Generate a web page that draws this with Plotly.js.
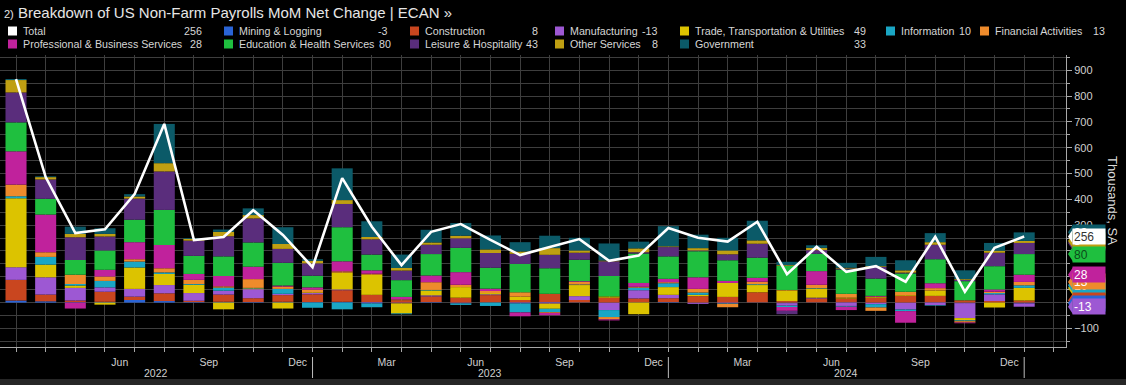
<!DOCTYPE html>
<html><head><meta charset="utf-8">
<script src="https://cdn.plot.ly/plotly-3.0.1.min.js"></script>
<style>html,body{margin:0;padding:0;background:#000;}#chart{width:1126px;height:385px;}</style>
</head><body><div id="chart"></div>
<script>
// ---------------- DATA (thousands, MoM net change) ----------------
const months = ['2022-02','2022-03','2022-04','2022-05','2022-06','2022-07','2022-08','2022-09','2022-10','2022-11','2022-12',
 '2023-01','2023-02','2023-03','2023-04','2023-05','2023-06','2023-07','2023-08','2023-09','2023-10','2023-11','2023-12',
 '2024-01','2024-02','2024-03','2024-04','2024-05','2024-06','2024-07','2024-08','2024-09','2024-10','2024-11','2024-12'];
const monthNames = ['Jan','Feb','Mar','Apr','May','Jun','Jul','Aug','Sep','Oct','Nov','Dec'];
const labelMonths = ['Mar','Jun','Sep','Dec'];

const total         = [866,486,269,284,420,692,242,254,358,262,137,482,294,145,274,304,243,184,215,246,162,182,289,251,236,313,110,216,119,141,81,255,42,212,256];
const mining        = [8,5,2,3,10,6,2,3,2,3,2,3,2,-1,2,-1,1,1,2,1,-1,1,2,-1,0,1,-2,1,1,-1,-1,1,-2,0,-3];
const construction  = [80,26,6,39,13,30,5,28,15,26,30,45,28,9,22,19,28,9,32,9,19,15,15,25,22,39,6,15,15,19,26,25,9,6,8];
const manufacturing = [49,67,49,17,30,32,30,15,35,5,5,3,-3,-2,4,-2,3,-3,-4,15,-28,32,13,-4,-3,0,-10,3,-13,-5,-26,-10,-58,26,-13];
const trade         = [267,49,9,-8,83,43,32,-26,3,-23,3,65,78,-39,19,41,5,13,-20,43,5,-45,30,5,54,28,41,35,3,4,3,21,-9,-19,49];
const information   = [8,30,6,25,23,6,3,12,2,19,-20,-26,-15,-3,2,-6,-13,-35,-13,2,-27,10,15,9,-2,3,-5,2,-3,-13,-6,-2,-3,5,10];
const financial     = [45,18,36,17,9,16,16,5,34,9,10,5,4,3,30,9,8,17,-3,10,-9,3,4,14,-13,10,2,13,15,-13,13,9,-5,5,13];
const professional  = [129,146,-23,26,66,90,23,40,48,4,9,39,13,10,26,49,9,-15,-9,3,-4,15,13,45,8,15,-15,53,-13,3,-45,19,-3,9,28];
const education     = [112,61,57,75,87,136,70,76,94,88,45,132,61,65,83,94,81,110,99,83,79,114,87,101,80,78,93,67,94,67,71,93,74,90,80];
const leisure       = [116,75,88,54,82,149,59,78,93,54,48,90,59,37,36,37,57,39,52,27,57,5,36,3,23,54,-13,14,4,45,3,56,5,52,43];
const otherServices = [48,9,13,10,8,32,7,17,13,19,10,15,9,10,9,10,14,9,26,9,3,15,3,9,15,13,3,9,3,3,9,10,3,8,8];
const government    = [4,3,28,22,9,152,3,9,26,65,6,123,61,52,49,49,54,36,48,49,66,26,78,52,49,76,13,10,19,36,39,35,34,30,33];

const seriesNames = ['Mining & Logging','Construction','Manufacturing','Trade, Transportation & Utilities','Information',
 'Financial Activities','Professional & Business Services','Education & Health Services','Leisure & Hospitality','Other Services','Government'];
const seriesData = [mining,construction,manufacturing,trade,information,financial,professional,education,leisure,otherServices,government];
const seriesColors = ['#2a64d6','#c9461f','#9d58d3','#dcc300','#1aa6c4','#ee8b2c','#c0229c','#1fbf3f','#5a2d7c','#bf9f12','#0b5a68'];
const totalColor = '#ffffff';

// ---------------- GEOMETRY ----------------
const W = 1126, H = 385, ML = 0, MR = 60, MT = 55, MB = 38;
const PW = W - ML - MR, PH = H - MT - MB;
const px2x = p => (p - ML) / PW;
const py2y = p => (H - MB - p) / PH;
const xRange = [-0.54, 35.41];
const yRange = [-172, 959];
const FONT = 'Liberation Sans, Arial, sans-serif';
const LEGSIZE = 10.7;

const xs = months.map((m, i) => i);
const traces = seriesData.map((d, k) => ({
  type: 'bar', x: xs, y: d, name: seriesNames[k], width: 0.71,
  marker: {color: seriesColors[k], line: {width: 0}}, showlegend: false, hoverinfo: 'skip'
}));
traces.push({type: 'scatter', mode: 'lines', x: xs, y: total, name: 'Total',
  line: {color: totalColor, width: 2.6}, showlegend: false, hoverinfo: 'skip'});

// month labels at month centres (bars sit at month end); first partial quarter unlabeled
const tickVals = [], tickText = [];
months.forEach((m, i) => {
  const nm = monthNames[parseInt(m.slice(5), 10) - 1];
  if (i >= 2 && labelMonths.includes(nm)) { tickVals.push(i - 0.5); tickText.push(nm); }
});

const annotations = [], shapes = [];

// year labels and separators
const years = [...new Set(months.map(m => m.slice(0, 4)))];
years.forEach(yr => {
  const idx = months.map((m, i) => m.startsWith(yr) ? i : -1).filter(i => i >= 0);
  const left = Math.max(idx[0] - 1, xRange[0]), right = idx[idx.length - 1];
  annotations.push({xref: 'x', yref: 'paper', x: (left + right) / 2, y: py2y(373), text: yr, showarrow: false,
    font: {family: FONT, size: 10.5, color: '#d0d0d0'}, xanchor: 'center', yanchor: 'middle'});
  shapes.push({type: 'line', xref: 'x', yref: 'paper', x0: right, x1: right, y0: py2y(357), y1: py2y(378),
    line: {color: '#bdbdbd', width: 1}});
});

// bottom band
shapes.push({type: 'rect', xref: 'paper', yref: 'paper', x0: px2x(0), x1: px2x(W), y0: py2y(379), y1: py2y(H),
  fillcolor: '#262626', line: {width: 0}, layer: 'below'});

// header legend
const last = arr => arr[arr.length - 1];
const legendItems = [{name: 'Total', color: totalColor, v: last(total)}]
  .concat(seriesNames.map((n, k) => ({name: n, color: seriesColors[k], v: last(seriesData[k])})));
// [text start px, value right edge px, row]
const slots = [
  [21,204,0],[237,390,0],[423,540,0],[568,660,0],[693,868,0],[899,973,0],[993,1107,0],
  [21,204,1],[237,393,1],[423,540,1],[568,660,1],[693,868,1]
];
legendItems.forEach((item, s) => {
  const [tx, vr, row] = slots[s];
  const cy = row === 0 ? 31 : 44;
  const sq = tx - 13;
  shapes.push({type: 'rect', xref: 'paper', yref: 'paper', x0: px2x(sq), x1: px2x(sq + 9),
    y0: py2y(cy - 4.5), y1: py2y(cy + 4.5), fillcolor: item.color, line: {width: 0}});
  annotations.push({xref: 'paper', yref: 'paper', x: px2x(tx), y: py2y(cy), text: item.name, showarrow: false,
    xanchor: 'left', yanchor: 'middle', font: {family: FONT, size: LEGSIZE, color: '#d6d6d6'}});
  annotations.push({xref: 'paper', yref: 'paper', x: px2x(vr), y: py2y(cy), text: String(item.v), showarrow: false,
    xanchor: 'right', yanchor: 'middle', font: {family: FONT, size: LEGSIZE, color: '#d6d6d6'}});
});

// value badges on the right axis (at the end of each segment of the latest bar)
const n = months.length - 1;
let posTop = 0, negBot = 0;
const segEnd = seriesData.map(d => {
  const v = d[n];
  if (v >= 0) { posTop += v; return posTop; } else { negBot += v; return negBot; }
});
const badgeOrder = [3,4,5,1,0,2,8,9,10,6,7];
const textCol = {3: '#333333', 7: '#0c4a1a'};
const badges = badgeOrder.map(k => ({y: segEnd[k], text: String(seriesData[k][n]), bg: seriesColors[k], fc: textCol[k] || '#ffffff'}));
badges.push({y: last(total), text: String(last(total)), bg: '#ffffff', fc: '#333333'});
badges.forEach(b => {
  shapes.push({type: 'path', xref: 'paper', yref: 'y', xsizemode: 'pixel', ysizemode: 'pixel',
    xanchor: 1, yanchor: b.y, path: 'M 2 0 L 7 7.5 L 7 -7.5 Z', fillcolor: b.bg, line: {width: 0}});
  annotations.push({xref: 'paper', yref: 'y', x: px2x(1072), y: b.y, xanchor: 'left', yanchor: 'middle',
    text: b.text, showarrow: false, bgcolor: b.bg, width: 30, height: 13, borderpad: 1, align: 'left',
    font: {family: FONT, size: 12, color: b.fc}});
});

// y-axis title
annotations.push({xref: 'paper', yref: 'paper', x: px2x(1113), y: py2y(200), text: 'Thousands, SA', textangle: 90,
  showarrow: false, xanchor: 'center', yanchor: 'middle', font: {family: FONT, size: 13, color: '#dcdcdc'}});

const layout = {
  width: W, height: H, margin: {l: ML, r: MR, t: MT, b: MB, pad: 0},
  paper_bgcolor: '#000000', plot_bgcolor: '#000000',
  barmode: 'relative', showlegend: false,
  title: {text: '<span style="font-size:11px">2)</span> Breakdown of US Non-Farm Payrolls MoM Net Change | ECAN »',
    xref: 'container', yref: 'container', x: 4 / W, y: 1 - 13 / H, xanchor: 'left', yanchor: 'middle',
    font: {family: FONT, size: 15, color: '#e6e6e6'}},
  xaxis: {range: xRange, tickmode: 'array', tickvals: tickVals, ticktext: tickText, ticks: '', showgrid: false,
    zeroline: false, showline: true, linecolor: '#a8a8a8', linewidth: 1, ticklabelstandoff: 5,
    tickfont: {family: FONT, size: 10.5, color: '#d0d0d0'},
    minor: {tickmode: 'linear', tick0: 0, dtick: 1, showgrid: true, gridcolor: '#3e3e3e', gridwidth: 1,
      ticks: 'outside', ticklen: 4, tickcolor: '#a8a8a8'}},
  yaxis: {range: yRange, side: 'right', tickmode: 'linear', tick0: 0, dtick: 100, showgrid: true, gridcolor: '#3e3e3e',
    zeroline: false, showline: true, linecolor: '#a8a8a8', ticks: 'outside', ticklen: 5, tickcolor: '#a8a8a8',
    tickfont: {family: FONT, size: 11, color: '#d0d0d0'},
    minor: {tickmode: 'linear', tick0: 0, dtick: 50, showgrid: true, gridcolor: '#3e3e3e', ticks: 'outside', ticklen: 3, tickcolor: '#a8a8a8'}},
  shapes: shapes, annotations: annotations
};

Plotly.newPlot('chart', traces, layout, {staticPlot: true, displayModeBar: false});
</script></body></html>
